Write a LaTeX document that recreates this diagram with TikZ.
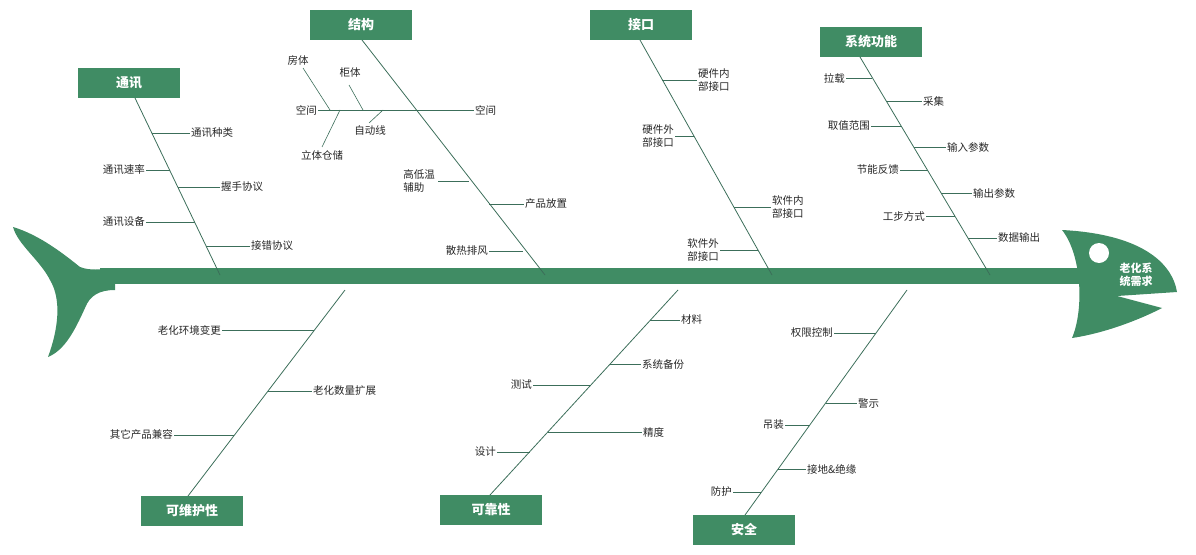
\documentclass[tikz,border=0pt]{standalone}
\usepackage{fontspec}
\newfontfamily\cjk{Noto Sans CJK SC}
\definecolor{fg}{RGB}{64,140,100}
\definecolor{ln}{RGB}{60,110,90}
\begin{document}
\begin{tikzpicture}[x=1pt,y=-1pt,
  cat/.style={fill=fg,minimum width=102pt,minimum height=30pt,text=white,font=\cjk\bfseries\fontsize{13}{14}\selectfont,inner sep=0pt},
  lab/.style={font=\cjk\fontsize{10.5}{13}\selectfont,text=black!85,inner sep=1pt,align=left},
  bone/.style={draw=ln,line width=0.8pt},
  sub/.style={draw=ln,line width=0.6pt}]
\useasboundingbox (0,0) rectangle (1196,554);
% tail
\fill[fg] (13,227) .. controls (40,235) and (65,255) .. (80,267) .. controls (90,271) and (100,269) .. (115,269)
  -- (115,290) .. controls (100,290) and (90,295) .. (85,308) .. controls (75,330) and (65,350) .. (48,357)
  .. controls (58,330) and (62,300) .. (50,280) .. controls (40,260) and (18,245) .. (13,227) -- cycle;
% spine
\fill[fg] (100,268) rectangle (1090,284);
% head
\fill[fg] (1062,230) .. controls (1140,234) and (1172,262) .. (1177,292) -- (1117,296) -- (1162,308)
  .. controls (1135,322) and (1100,334) .. (1072,338) .. controls (1084,310) and (1082,255) .. (1062,230) -- cycle;
\fill[white] (1099,253) circle (10);
\node[font=\cjk\bfseries\fontsize{11}{13.5}\selectfont,text=white,align=center,inner sep=0pt] (head) at (1136,275) {老化系\\统需求};
% boxes
\node[cat] (tx) at (129,83) {通讯};
\node[cat] (jg) at (361,25) {结构};
\node[cat] (jk) at (641,25) {接口};
\node[cat] (xt) at (871,42) {系统功能};
\node[cat] (kw) at (192,511) {可维护性};
\node[cat] (kk) at (491,510) {可靠性};
\node[cat] (aq) at (744,530) {安全};
% bone ends
\coordinate (e1) at (220,275); \coordinate (e2) at (545,275); \coordinate (e3) at (772,275); \coordinate (e4) at (990,275);
\coordinate (b1) at (345,290); \coordinate (b2) at (678,290); \coordinate (b3) at (907,290);
\draw[bone] (135,98) -- (e1);
\draw[bone] (362,40) -- (e2);
\draw[bone] (640,40) -- (e3);
\draw[bone] (860,57) -- (e4);
\draw[bone] (b1) -- (188,496);
\draw[bone] (b2) -- (490,495);
\draw[bone] (b3) -- (745,515);
% 通讯
\node[lab,anchor=west] (t1) at (190,133) {通讯种类}; \draw[sub] (152,133) -- (t1.west);
\node[lab,anchor=east] (t2) at (146,170) {通讯速率}; \draw[sub] (t2.east) -- (170,170);
\node[lab,anchor=west] (t3) at (220,187) {握手协议}; \draw[sub] (178,187) -- (t3.west);
\node[lab,anchor=east] (t4) at (146,222) {通讯设备}; \draw[sub] (t4.east) -- (195,222);
\node[lab,anchor=west] (t5) at (250,246) {接错协议}; \draw[sub] (206,246) -- (t5.west);
% 结构
\node[lab,anchor=east] (s0) at (318,110) {空间};
\node[lab,anchor=west] (s1) at (474,110) {空间};
\draw[sub] (s0.east) -- (s1.west);
\node[lab] (s2) at (298,60) {房体}; \draw[sub] (303,68) -- (330,110);
\node[lab] (s3) at (350,73) {柜体}; \draw[sub] (349,85) -- (363,110);
\node[lab] (s4) at (322,155) {立体仓储}; \draw[sub] (322,147) -- (340,110);
\node[lab] (s5) at (370,131) {自动线}; \draw[sub] (369,123) -- (383,110);
\node[lab,anchor=east] (s6) at (436,181) {高低温\\辅助}; \draw[sub] (438,181) -- (469,181);
\node[lab,anchor=west] (s7) at (524,204) {产品放置}; \draw[sub] (489,204) -- (s7.west);
\node[lab,anchor=east] (s8) at (489,251) {散热排风}; \draw[sub] (s8.east) -- (523,251);
% 接口
\node[lab,anchor=west] (j1) at (697,80) {硬件内\\部接口}; \draw[sub] (662,80) -- (j1.west);
\node[lab,anchor=east] (j2) at (675,136) {硬件外\\部接口}; \draw[sub] (j2.east) -- (694,136);
\node[lab,anchor=west] (j3) at (771,207) {软件内\\部接口}; \draw[sub] (734,207) -- (j3.west);
\node[lab,anchor=east] (j4) at (720,250) {软件外\\部接口}; \draw[sub] (j4.east) -- (758,250);
% 系统功能
\node[lab,anchor=east] (f1) at (846,78) {拉载}; \draw[sub] (f1.east) -- (872,78);
\node[lab,anchor=west] (f2) at (922,101) {采集}; \draw[sub] (886,101) -- (f2.west);
\node[lab,anchor=east] (f3) at (871,126) {取值范围}; \draw[sub] (f3.east) -- (901,126);
\node[lab,anchor=west] (f4) at (946,147) {输入参数}; \draw[sub] (914,147) -- (f4.west);
\node[lab,anchor=east] (f5) at (900,170) {节能反馈}; \draw[sub] (f5.east) -- (928,170);
\node[lab,anchor=west] (f6) at (972,193) {输出参数}; \draw[sub] (941,193) -- (f6.west);
\node[lab,anchor=east] (f7) at (926,216) {工步方式}; \draw[sub] (f7.east) -- (955,216);
\node[lab,anchor=west] (f8) at (997,238) {数据输出}; \draw[sub] (968,238) -- (f8.west);
% 可维护性
\node[lab,anchor=east] (k1) at (222,330) {老化环境变更}; \draw[sub] (k1.east) -- (314,330);
\node[lab,anchor=west] (k2) at (312,391) {老化数量扩展}; \draw[sub] (268,391) -- (k2.west);
\node[lab,anchor=east] (k3) at (174,435) {其它产品兼容}; \draw[sub] (k3.east) -- (234,435);
% 可靠性
\node[lab,anchor=west] (r1) at (680,320) {材料}; \draw[sub] (650,320) -- (r1.west);
\node[lab,anchor=west] (r2) at (641,364) {系统备份}; \draw[sub] (610,364) -- (r2.west);
\node[lab,anchor=east] (r3) at (533,385) {测试}; \draw[sub] (r3.east) -- (591,385);
\node[lab,anchor=west] (r4) at (642,432) {精度}; \draw[sub] (548,432) -- (r4.west);
\node[lab,anchor=east] (r5) at (497,452) {设计}; \draw[sub] (r5.east) -- (530,452);
% 安全
\node[lab,anchor=east] (a1) at (834,333) {权限控制}; \draw[sub] (a1.east) -- (876,333);
\node[lab,anchor=west] (a2) at (857,403) {警示}; \draw[sub] (826,403) -- (a2.west);
\node[lab,anchor=east] (a3) at (785,425) {吊装}; \draw[sub] (a3.east) -- (810,425);
\node[lab,anchor=west] (a4) at (806,469) {接地\&绝缘}; \draw[sub] (778,469) -- (a4.west);
\node[lab,anchor=east] (a5) at (733,492) {防护}; \draw[sub] (a5.east) -- (761,492);
\end{tikzpicture}
\end{document}
